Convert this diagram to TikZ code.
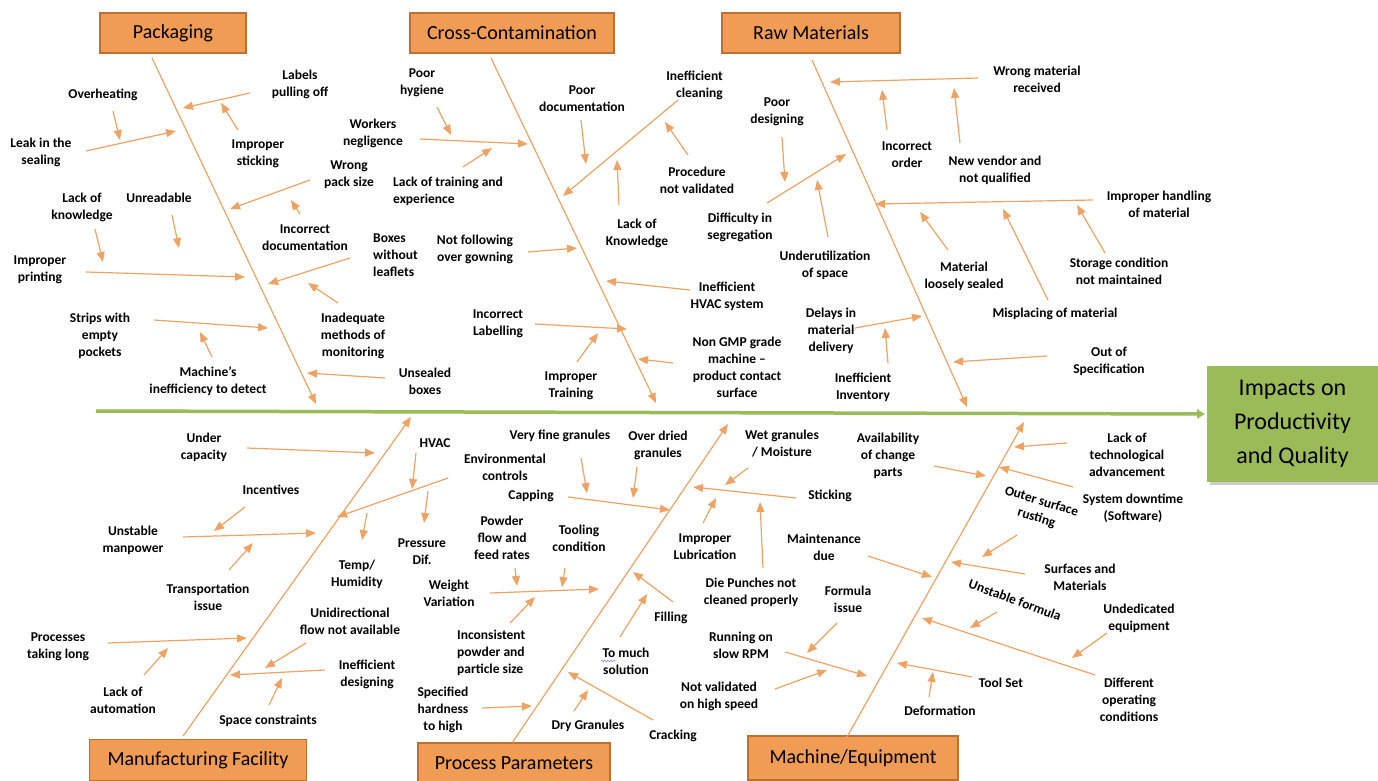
\documentclass[tikz,border=0pt]{standalone}
\usepackage{fontspec}
\setmainfont{Carlito}
\usetikzlibrary{arrows.meta,decorations.pathmorphing}
\definecolor{headfill}{RGB}{240,156,84}
\definecolor{headline}{RGB}{190,112,50}
\definecolor{twig}{RGB}{238,163,100}
\definecolor{spine}{RGB}{155,187,89}

\begin{document}
\begin{tikzpicture}[x=1pt,y=-1pt,
	head/.style={draw=headline,fill=headfill,line width=1.5pt,minimum height=40pt,inner sep=0pt,font=\fontsize{20}{22}\selectfont},
	lbl/.style={align=center,inner sep=0pt,font=\fontsize{13.5}{17}\selectfont\bfseries},
	bone/.style={draw=twig,line width=1.2pt,-{Triangle[length=10pt,width=8pt]}},
	arr/.style={bone}]
	\fill[white] (0,0) rectangle (1378,781);
	\useasboundingbox (0,0) rectangle (1378,781);

	% spine and effect
	\fill[black!20] (1210,369) rectangle (1378,485);
	\node[fill=spine,minimum width=171pt,minimum height=116pt,align=center,inner sep=0pt,font=\fontsize{24}{34}\selectfont] (imp) at (1292.5,424) {Impacts on\\Productivity\\and Quality};
	\path (96,411) coordinate (sp1) (1205,414) coordinate (sp2);
	\draw[spine,line width=3.5pt,-{Triangle[length=8pt,width=9pt]}] (sp1) -- (sp2);

	% Packaging
	\node[head,minimum width=146pt] (pack) at (173,33) {Packaging};
	\node[lbl] (lpo) at (300,84) {Labels\\pulling off};
	\node[lbl] (ist) at (258,154) {Improper\\sticking};
	\node[lbl] (ovh) at (103,95) {Overheating};
	\node[lbl] (leak) at (41,152) {Leak in the\\sealing};
	\node[lbl] (wps) at (349,175) {Wrong\\pack size};
	\node[lbl] (idoc) at (305,238) {Incorrect\\documentation};
	\node[lbl] (lok) at (82,207) {Lack of\\knowledge};
	\node[lbl] (unr) at (159,198) {Unreadable};
	\node[lbl] (ipr) at (40,270) {Improper\\printing};
	\node[lbl,align=left,anchor=west] (bwl) at (373,255) {Boxes\\without\\leaflets};
	\node[lbl] (imm) at (353,336) {Inadequate\\methods of\\monitoring};
	\node[lbl] (swp) at (100,336) {Strips with\\empty\\pockets};
	\node[lbl] (mid) at (208,381) {Machine’s\\inefficiency to detect};
	\node[lbl] (usb) at (425,381) {Unsealed\\boxes};
	\path (152,58) coordinate (pk1) (316,404) coordinate (pk2)
		(250,93) coordinate (lpo1) (183,108) coordinate (lpo2)
		(238,130) coordinate (ist1) (221,103) coordinate (ist2)
		(113,111) coordinate (ovh1) (120,140) coordinate (ovh2)
		(86,151) coordinate (leak1) (176,131) coordinate (leak2)
		(310,180) coordinate (wps1) (230,209) coordinate (wps2)
		(300,214) coordinate (idoc1) (291,200) coordinate (idoc2)
		(95,229) coordinate (lok1) (103,262) coordinate (lok2)
		(172,215) coordinate (unr1) (179,248) coordinate (unr2)
		(86,272) coordinate (ipr1) (245,277) coordinate (ipr2)
		(350,258) coordinate (bwl1) (268,284) coordinate (bwl2)
		(338,303) coordinate (imm1) (308,283) coordinate (imm2)
		(154,320) coordinate (swp1) (268,328) coordinate (swp2)
		(212,357) coordinate (mid1) (200,332) coordinate (mid2)
		(385,378) coordinate (usb1) (307,373) coordinate (usb2);
	\foreach \n in {pk,lpo,ist,ovh,leak,wps,idoc,lok,unr,ipr,bwl,imm,swp,mid,usb}
		\draw[arr] (\n1) -- (\n2);

	% Cross-Contamination
	\node[head,minimum width=204pt] (cross) at (512,33) {Cross-Contamination};
	\node[lbl] (phy) at (422,83) {Poor\\hygiene};
	\node[lbl] (wng) at (373,133) {Workers\\negligence};
	\node[lbl,align=left,anchor=west] (ltr) at (393,191) {Lack of training and\\experience};
	\node[lbl] (pdoc) at (582,99) {Poor\\documentation};
	\node[lbl,align=right,anchor=east] (icl) at (723,85) {Inefficient\\cleaning};
	\node[lbl] (pnv) at (697,180) {Procedure\\not validated};
	\node[lbl] (lkn) at (637,233) {Lack of\\Knowledge};
	\node[lbl] (nfg) at (475,249) {Not following\\over gowning};
	\node[lbl] (ihv) at (727,296) {Inefficient\\HVAC system};
	\node[lbl] (ilb) at (498,324) {Incorrect\\Labelling};
	\node[lbl] (itr) at (571,386) {Improper\\Training};
	\node[lbl] (ngm) at (737,367) {Non GMP grade\\machine –\\product contact\\surface};
	\path (491,58) coordinate (cc1) (656,403) coordinate (cc2)
		(437,107) coordinate (phy1) (451,135) coordinate (phy2)
		(420,139) coordinate (wng1) (528,144) coordinate (wng2)
		(463,167) coordinate (ltr1) (492,148) coordinate (ltr2)
		(581,120) coordinate (pdoc1) (586,164) coordinate (pdoc2)
		(678,100) coordinate (icl1) (563,196) coordinate (icl2)
		(688,155) coordinate (pnv1) (665,122) coordinate (pnv2)
		(619,205) coordinate (lkn1) (617,160) coordinate (lkn2)
		(528,252) coordinate (nfg1) (577,248) coordinate (nfg2)
		(690,290) coordinate (ihv1) (606,281) coordinate (ihv2)
		(535,324) coordinate (ilb1) (627,329) coordinate (ilb2)
		(577,362) coordinate (itr1) (598,333) coordinate (itr2)
		(673,363) coordinate (ngm1) (638,359) coordinate (ngm2);
	\foreach \n in {cc,phy,wng,ltr,pdoc,icl,pnv,lkn,nfg,ihv,ilb,itr,ngm}
		\draw[arr] (\n1) -- (\n2);

	% Raw Materials
	\node[head,minimum width=178pt] (raw) at (811,33) {Raw Materials};
	\node[lbl] (wmr) at (1037,79) {Wrong material\\received};
	\node[lbl] (iord) at (907,155) {Incorrect\\order};
	\node[lbl] (nvq) at (995,170) {New vendor and\\not qualified};
	\node[lbl] (pdes) at (777,112) {Poor\\designing};
	\node[lbl] (dis) at (740,227) {Difficulty in\\segregation};
	\node[lbl] (uos) at (825,265) {Underutilization\\of space};
	\node[lbl] (ihm) at (1159,204) {Improper handling\\of material};
	\node[lbl] (mls) at (964,276) {Material\\loosely sealed};
	\node[lbl] (scm) at (1119,271) {Storage condition\\not maintained};
	\node[lbl] (mpm) at (1055,314) {Misplacing of material};
	\node[lbl] (dmd) at (831,331) {Delays in\\material\\delivery};
	\node[lbl] (iinv) at (863,387) {Inefficient\\Inventory};
	\node[lbl] (oos) at (1109,361) {Out of\\Specification};
	\path (812,60) coordinate (rm1) (967,407) coordinate (rm2)
		(978,78) coordinate (wmr1) (830,82) coordinate (wmr2)
		(887,130) coordinate (iord1) (882,90) coordinate (iord2)
		(960,143) coordinate (nvq1) (954,88) coordinate (nvq2)
		(782,137) coordinate (pdes1) (785,182) coordinate (pdes2)
		(767,203) coordinate (dis1) (846,154) coordinate (dis2)
		(828,237) coordinate (uos1) (817,180) coordinate (uos2)
		(1093,200) coordinate (ihm1) (875,204) coordinate (ihm2)
		(948,250) coordinate (mls1) (920,212) coordinate (mls2)
		(1105,253) coordinate (scm1) (1077,205) coordinate (scm2)
		(1048,300) coordinate (mpm1) (1003,209) coordinate (mpm2)
		(855,328) coordinate (dmd1) (922,316) coordinate (dmd2)
		(888,363) coordinate (iinv1) (885,328) coordinate (iinv2)
		(1047,356) coordinate (oos1) (953,362) coordinate (oos2);
	\foreach \n in {rm,wmr,iord,nvq,pdes,dis,uos,ihm,mls,scm,mpm,dmd,iinv,oos}
		\draw[arr] (\n1) -- (\n2);

	% Manufacturing Facility
	\node[head,minimum width=217pt,minimum height=41pt] (manu) at (198,760) {Manufacturing Facility};
	\node[lbl] (ucap) at (204,447) {Under\\capacity};
	\node[lbl] (hvac) at (435,443) {HVAC};
	\node[lbl] (env) at (505,467) {Environmental\\controls};
	\node[lbl] (pdif) at (422,552) {Pressure\\Dif.};
	\node[lbl] (tmh) at (357,574) {Temp/\\Humidity};
	\node[lbl] (inc) at (271,490) {Incentives};
	\node[lbl] (umnp) at (133,540) {Unstable\\manpower};
	\node[lbl] (trn) at (208,597) {Transportation\\issue};
	\node[lbl] (udf) at (350,621) {Unidirectional\\flow not available};
	\node[lbl] (ptl) at (58,647) {Processes\\taking long};
	\node[lbl] (loa) at (123,700) {Lack of\\automation};
	\node[lbl] (ides) at (367,674) {Inefficient\\designing};
	\node[lbl] (spc) at (268,721) {Space constraints};
	\path (183,736) coordinate (mf1) (411,417) coordinate (mf2)
		(247,448) coordinate (ucap1) (375,453) coordinate (ucap2)
		(416,453) coordinate (hvac1) (412,489) coordinate (hvac2)
		(448,478) coordinate (env1) (337,517) coordinate (env2)
		(428,491) coordinate (pdif1) (424,523) coordinate (pdif2)
		(367,513) coordinate (tmh1) (362,540) coordinate (tmh2)
		(245,507) coordinate (inc1) (214,531) coordinate (inc2)
		(183,537) coordinate (umnp1) (316,533) coordinate (umnp2)
		(229,570) coordinate (trn1) (253,543) coordinate (trn2)
		(306,643) coordinate (udf1) (265,668) coordinate (udf2)
		(108,643) coordinate (ptl1) (247,638) coordinate (ptl2)
		(144,675) coordinate (loa1) (168,648) coordinate (loa2)
		(325,670) coordinate (ides1) (230,675) coordinate (ides2)
		(269,705) coordinate (spc1) (282,678) coordinate (spc2);
	\foreach \n in {mf,ucap,hvac,env,pdif,tmh,inc,umnp,trn,udf,ptl,loa,ides,spc}
		\draw[arr] (\n1) -- (\n2);

	% Process Parameters
	\node[head,minimum width=192pt] (proc) at (514,763) {Process Parameters};
	\node[lbl] (vfg) at (560,436) {Very fine granules};
	\node[lbl] (odg) at (658,445) {Over dried\\granules};
	\node[lbl] (cap) at (531,496) {Capping};
	\node[lbl] (pff) at (502,538) {Powder\\flow and\\feed rates};
	\node[lbl] (tcn) at (579,538) {Tooling\\condition};
	\node[lbl] (wvar) at (449,593) {Weight\\Variation};
	\node[lbl,align=left,anchor=west] (ipps) at (457,653) {Inconsistent\\powder and\\particle size};
	\node[lbl] (tms) at (626,661) {To much\\solution};
	\node[lbl] (fil) at (671,618) {Filling};
	\node[lbl] (shh) at (443,710) {Specified\\hardness\\to high};
	\node[lbl] (dgr) at (588,726) {Dry Granules};
	\node[lbl] (crk) at (673,736) {Cracking};
	\node[lbl] (wgm) at (782,444) {Wet granules\\/ Moisture};
	\node[lbl] (stk) at (830,496) {Sticking};
	\node[lbl] (ilub) at (705,547) {Improper\\Lubrication};
	\node[lbl] (dpc) at (751,592) {Die Punches not\\cleaned properly};
	\draw[blue!60,decorate,decoration={snake,amplitude=0.7pt,segment length=3pt}] (601,661) -- (616,661);
	\path (512,743) coordinate (pp1) (728,424) coordinate (pp2)
		(581,458) coordinate (vfg1) (587,493) coordinate (vfg2)
		(637,467) coordinate (odg1) (633,498) coordinate (odg2)
		(568,497) coordinate (cap1) (670,510) coordinate (cap2)
		(515,568) coordinate (pff1) (517,586) coordinate (pff2)
		(565,568) coordinate (tcn1) (562,587) coordinate (tcn2)
		(490,593) coordinate (wvar1) (599,589) coordinate (wvar2)
		(510,623) coordinate (ipps1) (535,597) coordinate (ipps2)
		(620,637) coordinate (tms1) (647,594) coordinate (tms2)
		(673,602) coordinate (fil1) (633,572) coordinate (fil2)
		(482,708) coordinate (shh1) (532,706) coordinate (shh2)
		(574,711) coordinate (dgr1) (588,690) coordinate (dgr2)
		(653,720) coordinate (crk1) (568,672) coordinate (crk2)
		(748,468) coordinate (wgm1) (725,485) coordinate (wgm2)
		(796,498) coordinate (stk1) (693,487) coordinate (stk2)
		(703,523) coordinate (ilub1) (716,498) coordinate (ilub2)
		(763,568) coordinate (dpc1) (760,502) coordinate (dpc2);
	\foreach \n in {pp,vfg,odg,cap,pff,tcn,wvar,ipps,tms,fil,shh,dgr,crk,wgm,stk,ilub,dpc}
		\draw[arr] (\n1) -- (\n2);

	% Machine/Equipment
	\node[head,minimum width=210pt,minimum height=44pt] (mach) at (853,758) {Machine/Equipment};
	\node[lbl] (acp) at (888,456) {Availability\\of change\\parts};
	\node[lbl] (lta) at (1127,455) {Lack of\\technological\\advancement};
	\node[lbl] (sdt) at (1133,508) {System downtime\\(Software)};
	\node[lbl,rotate=-17] (osr) at (1039,510) {Outer surface\\rusting};
	\node[lbl] (mdu) at (824,547) {Maintenance\\due};
	\node[lbl] (sam) at (1080,577) {Surfaces and\\Materials};
	\node[lbl,rotate=-20] (usf) at (1015,600) {Unstable formula};
	\node[lbl] (udeq) at (1139,618) {Undedicated\\equipment};
	\node[lbl] (doc) at (1129,700) {Different\\operating\\conditions};
	\node[lbl] (fis) at (848,599) {Formula\\issue};
	\node[lbl] (rsr) at (741,645) {Running on\\slow RPM};
	\node[lbl] (nvh) at (719,696) {Not validated\\on high speed};
	\node[lbl] (tset) at (1001,683) {Tool Set};
	\node[lbl] (dfm) at (940,711) {Deformation};
	\path (847,737) coordinate (me1) (1024,422) coordinate (me2)
		(934,466) coordinate (acp1) (986,476) coordinate (acp2)
		(1067,443) coordinate (lta1) (1014,447) coordinate (lta2)
		(1073,487) coordinate (sdt1) (999,467) coordinate (sdt2)
		(1017,535) coordinate (osr1) (982,557) coordinate (osr2)
		(868,556) coordinate (mdu1) (932,577) coordinate (mdu2)
		(1025,574) coordinate (sam1) (951,562) coordinate (sam2)
		(997,612) coordinate (usf1) (970,628) coordinate (usf2)
		(1107,633) coordinate (udeq1) (1072,658) coordinate (udeq2)
		(1095,675) coordinate (doc1) (922,618) coordinate (doc2)
		(837,623) coordinate (fis1) (807,653) coordinate (fis2)
		(785,652) coordinate (rsr1) (867,676) coordinate (rsr2)
		(775,689) coordinate (nvh1) (827,670) coordinate (nvh2)
		(972,677) coordinate (tset1) (897,663) coordinate (tset2)
		(929,697) coordinate (dfm1) (933,672) coordinate (dfm2);
	\foreach \n in {me,acp,lta,sdt,osr,mdu,sam,usf,udeq,doc,fis,rsr,nvh,tset,dfm}
		\draw[arr] (\n1) -- (\n2);
\end{tikzpicture}
\end{document}
